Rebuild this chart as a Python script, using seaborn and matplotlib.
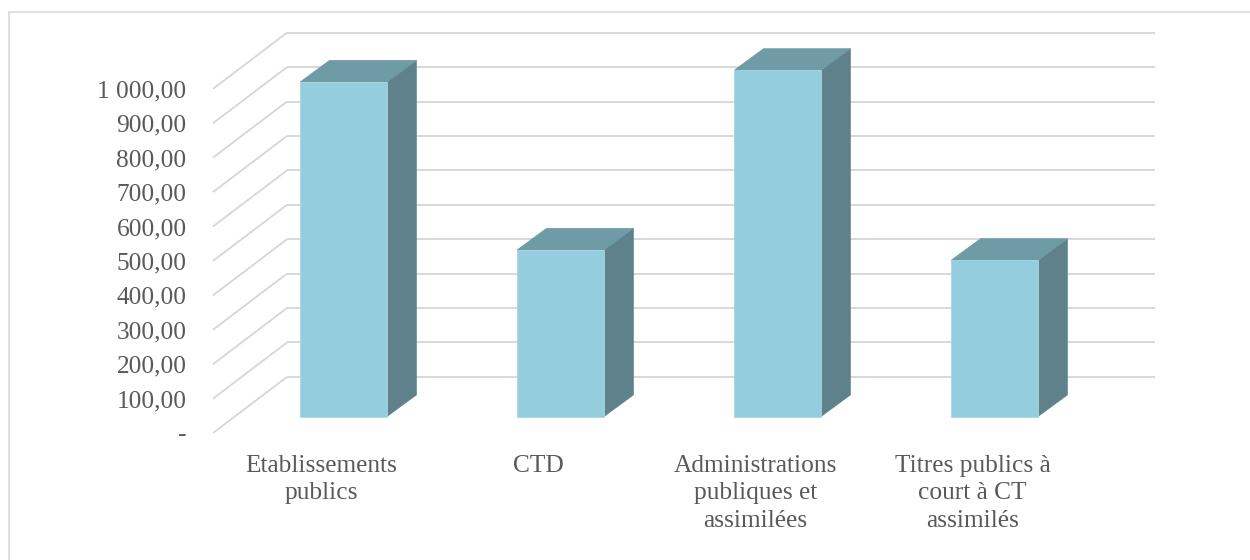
import matplotlib
matplotlib.use("Agg")
import matplotlib.pyplot as plt
from matplotlib.patches import Polygon
from matplotlib.lines import Line2D
import pandas as pd
import seaborn as sns

# values
categories = ["Etablissements\npublics", "CTD",
              "Administrations\npubliques et\nassimilées",
              "Titres publics à\ncourt à CT\nassimilés"]
values = [972, 484, 1006, 454]
y_ticks = [0, 100, 200, 300, 400, 500, 600, 700, 800, 900, 1000]
y_tick_labels = ["-", "100,00", "200,00", "300,00", "400,00", "500,00",
                 "600,00", "700,00", "800,00", "900,00", "1 000,00"]

# fake-3D geometry (category units on x, value units on y)
WALL_DX, WALL_DY = 0.341, 163      # depth of the floor / side wall
BAR_OFF_X, BAR_OFF_Y = 0.101, 47.5  # front face of the bars sits behind the front plane
BAR_DX, BAR_DY = 0.136, 63          # depth of each bar
BAR_W = 0.40

FRONT = "#94CDDD"
SIDE = "#5E818B"
TOP = "#6F9BA6"
GRID = "#D6D6D6"
TEXT = "#595959"

sns.set_theme(style="white")
plt.rcParams["font.family"] = ["Liberation Serif", "DejaVu Serif"]

fig = plt.figure(figsize=(12.5, 5.6), dpi=100)
W, H = 1250, 560
ax = fig.add_axes([213 / W, (H - 433) / H, (1155 - 213) / W, (433 - 32.7) / H])

x_left = -0.5
x_right = len(categories) - 0.5 + WALL_DX

# gridlines: diagonal on the left wall, horizontal on the back wall
for v in y_ticks:
    ax.plot([x_left, x_left + WALL_DX], [v, v + WALL_DY], color=GRID, lw=1.3,
            zorder=1, clip_on=False, solid_capstyle="butt")
    ax.plot([x_left + WALL_DX, x_right], [v + WALL_DY, v + WALL_DY], color=GRID,
            lw=1.3, zorder=1, clip_on=False, solid_capstyle="butt")

# front faces through seaborn, then pushed back into the box
df = pd.DataFrame({"cat": categories, "val": values})
sns.barplot(data=df, x="cat", y="val", color=FRONT, saturation=1, width=BAR_W,
            ax=ax, zorder=3)
for p in ax.patches:
    p.set_x(p.get_x() + BAR_OFF_X)
    p.set_y(BAR_OFF_Y)
    p.set_facecolor(FRONT)
    p.set_edgecolor("#A9D6E2")
    p.set_linewidth(0.6)
    p.set_clip_on(False)

# side and top faces built from the same values
for i, v in enumerate(values):
    x0 = i + BAR_OFF_X - BAR_W / 2
    x1 = x0 + BAR_W
    y0 = BAR_OFF_Y
    y1 = BAR_OFF_Y + v
    side = Polygon([(x1, y0), (x1 + BAR_DX, y0 + BAR_DY), (x1 + BAR_DX, y1 + BAR_DY), (x1, y1)],
                   closed=True, facecolor=SIDE, edgecolor=SIDE, lw=0.5, zorder=2.9, clip_on=False)
    top = Polygon([(x0, y1), (x0 + BAR_DX, y1 + BAR_DY), (x1 + BAR_DX, y1 + BAR_DY), (x1, y1)],
                  closed=True, facecolor=TOP, edgecolor=TOP, lw=0.5, zorder=2.9, clip_on=False)
    ax.add_patch(side)
    ax.add_patch(top)

# limits after seaborn, which resets the categorical range
ax.set_xlim(x_left, x_right)
ax.set_ylim(0, max(y_ticks) + WALL_DY)

ax.set_yticks(y_ticks)
ax.set_yticklabels(y_tick_labels)
ax.set_xticks(range(len(categories)))
ax.set_xticklabels(categories, linespacing=1.33)
ax.set_xlabel("")
ax.set_ylabel("")
ax.tick_params(axis="y", length=0, pad=19, labelsize=18.3, labelcolor=TEXT)
ax.tick_params(axis="x", length=0, pad=15.5, labelsize=18.3, labelcolor=TEXT)
for s in ax.spines.values():
    s.set_visible(False)
ax.grid(False)
ax.set_facecolor("none")

# chart area border (only left and top edges visible in the picture)
fig.add_artist(Line2D([8.5 / W, 8.5 / W], [0, 1 - 11.5 / H], transform=fig.transFigure,
                      color="#D9D9D9", lw=1.2))
fig.add_artist(Line2D([8.5 / W, 1], [1 - 11.5 / H, 1 - 11.5 / H], transform=fig.transFigure,
                      color="#D9D9D9", lw=1.2))

fig.savefig("out.png", dpi=100)
